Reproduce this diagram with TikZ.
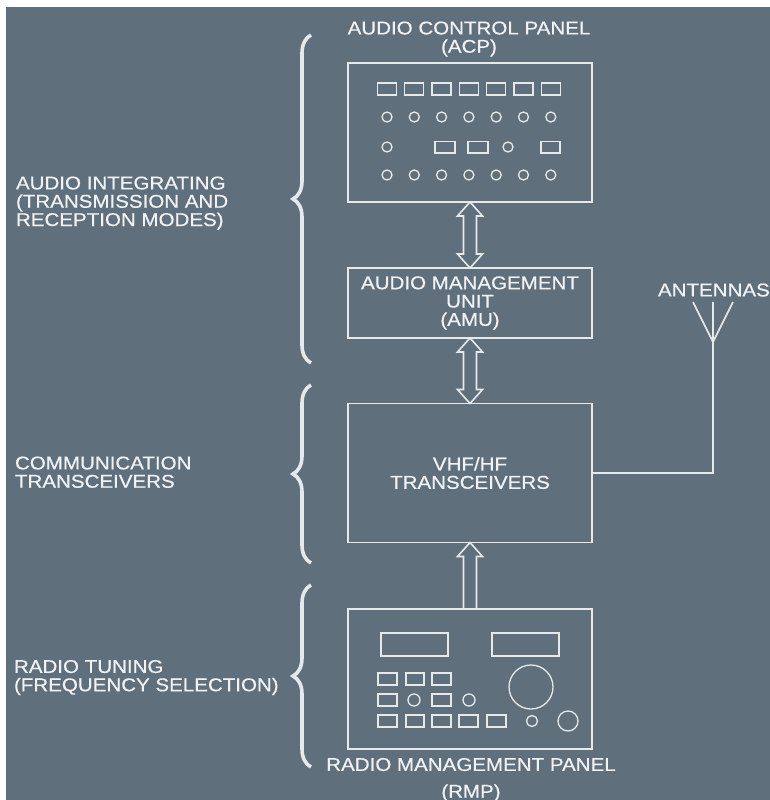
\documentclass[tikz,border=0pt]{standalone}
\usepackage{fontspec}
\setmainfont{Liberation Sans}[FakeStretch=1.11,FakeBold=0.5]
\usetikzlibrary{decorations.pathreplacing,calc}
\definecolor{panelbg}{HTML}{5F6F7C}
\definecolor{ink}{HTML}{E4E9EC}
\definecolor{txt}{HTML}{F0F3F5}
\newcommand\lblfont{\fontsize{18.5}{18.3}\selectfont}
% hollow double-headed block arrow between two tips (#1 above #2)
\newcommand\hollowpair[2]{%
  \draw[wire] (#1) -- ++(12.5,14) -- ++(-6,0) -- ($(#2)+(6.5,-14)$) -- ++(6,0)
    -- (#2) -- ++(-12.5,-14) -- ++(6,0) -- ($(#1)+(-6.5,14)$) -- ++(-6,0) -- cycle;}
\begin{document}
\begin{tikzpicture}[x=1pt,y=-1pt,
  wire/.style={draw=ink,line width=1.6pt,line join=miter},
  part/.style={draw=ink,line width=1.3pt},
  unit/.style={wire,rectangle,minimum width=244pt,inner sep=0pt,outer sep=0pt,
    text=txt,align=center,font=\lblfont},
  lbl/.style={text=txt,inner sep=0pt,outer sep=0pt,font=\lblfont},
  brc/.style={draw=ink,line width=3.6pt,decorate,decoration={brace,amplitude=18pt}}]
\useasboundingbox (0,0) rectangle (770,800);
\clip (0,0) rectangle (770,800);
\fill[white] (0,0) rectangle (770,800);
\fill[panelbg] (6,7) rectangle (770,800);

% equipment boxes
\node[unit,minimum height=139pt] (acp) at (470,132.5) {};
\node[unit,minimum height=70pt] (amu) at (470,303) {AUDIO MANAGEMENT\\UNIT\\(AMU)};
\node[unit,minimum height=139pt] (vhf) at (470,473) {VHF/HF\\TRANSCEIVERS};
\node[unit,minimum height=140pt] (rmp) at (470,679) {};

% captions
\node[lbl,anchor=north,align=center] (acpl) at (469,21.5) {AUDIO CONTROL PANEL\\(ACP)};
\node[lbl,anchor=north,align=center] (rmpl) at (471,758) {RADIO MANAGEMENT PANEL\\[8.5pt](RMP)};
\node[lbl,anchor=north west] (antl) at (658,283.5) {ANTENNAS};
\node[lbl,anchor=north west,align=left] (grp1) at (16,176.5)
  {AUDIO INTEGRATING\\(TRANSMISSION AND\\RECEPTION MODES)};
\node[lbl,anchor=north west,align=left] (grp2) at (15,456.5)
  {COMMUNICATION\\TRANSCEIVERS};
\node[lbl,anchor=north west,align=left] (grp3) at (14,660)
  {RADIO TUNING\\(FREQUENCY SELECTION)};

% group braces
\draw[brc] (311,363) -- (311,35);
\draw[brc] (311,563) -- (311,385);
\draw[brc] (311,767) -- (311,585);

% data paths
\hollowpair{acp.south}{amu.north}
\hollowpair{amu.south}{vhf.north}
\draw[wire] ($(rmp.north)+(6.5,0)$) -- ($(vhf.south)+(6.5,14)$) -- ++(6,0) -- (vhf.south)
  -- ++(-12.5,14) -- ++(6,0) -- ($(rmp.north)+(-6.5,0)$);

% antenna feed
\coordinate (feed) at (713,342);
\coordinate (tipl) at (693,302);
\coordinate (tipc) at (713,302);
\coordinate (tipr) at (733,302);
\draw[wire] (vhf.east) -| (feed);
\draw[wire] (tipl) -- (feed) -- (tipr) (feed) -- (tipc);

% audio control panel face
\foreach \i in {0,...,6}{
  \pgfmathsetmacro\cx{387+27.3*\i}
  \draw[part] (\cx-9.5,83) rectangle (\cx+9.5,95);
  \draw[part] (\cx,117) circle[radius=5pt];
  \draw[part] (\cx,175) circle[radius=5pt];
}
\draw[part] (387,147) circle[radius=5pt];
\draw[part] (435,141.5) rectangle (455,153);
\draw[part] (468,141.5) rectangle (488,153);
\draw[part] (508,147) circle[radius=5pt];
\draw[part] (541,141.5) rectangle (560,153);

% radio management panel face
\draw[part] (381,633) rectangle (448,656);
\draw[part] (492,633) rectangle (559,656);
\foreach \a/\b in {378/397,406/424,432/451}
  \draw[part] (\a,673) rectangle (\b,685);
\draw[part] (378,694) rectangle (397,706);
\draw[part] (414,700) circle[radius=6pt];
\draw[part] (432,694) rectangle (451,706);
\draw[part] (469,700) circle[radius=6pt];
\foreach \a/\b in {378/397,406/424,432/451,459/478,487/506}
  \draw[part] (\a,715) rectangle (\b,727);
\draw[part] (532,721) circle[radius=5.5pt];
\draw[part] (568,721) circle[radius=10pt];
\draw[part] (531,687) circle[radius=22pt];
\end{tikzpicture}
\end{document}
